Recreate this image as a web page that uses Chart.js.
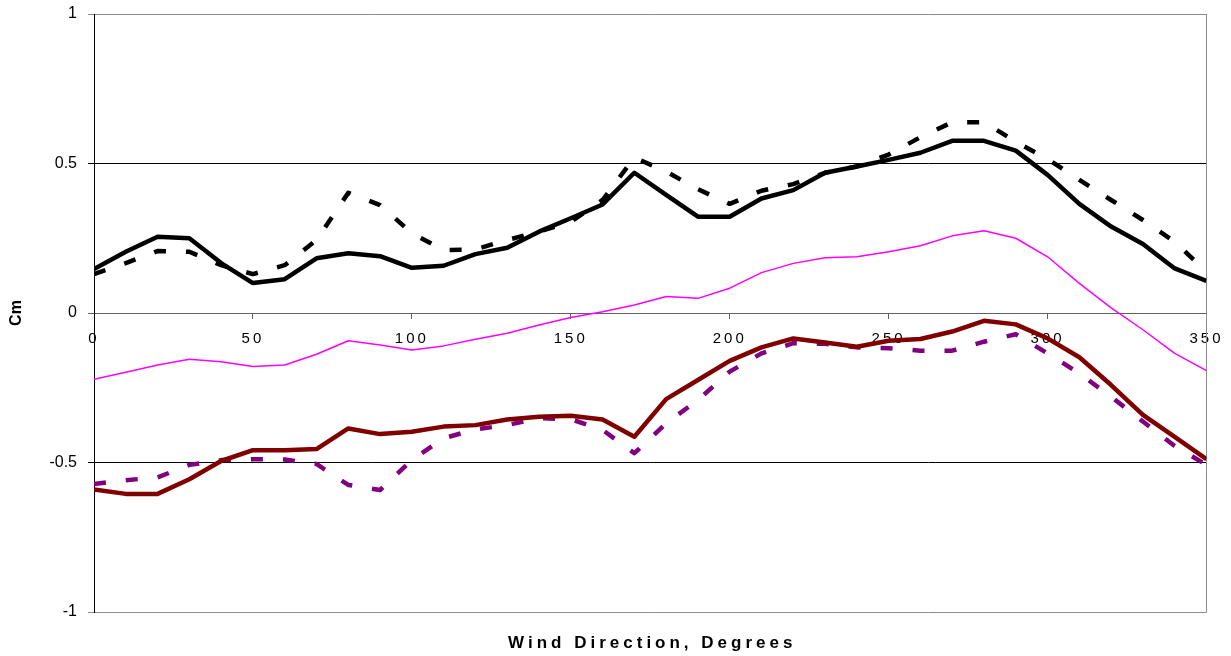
<!DOCTYPE html>
<html>
<head>
<meta charset="utf-8">
<title>Cm vs Wind Direction</title>
<script src="https://cdn.jsdelivr.net/npm/chart.js@4/dist/chart.umd.min.js"></script>
<style>
  html, body { margin: 0; padding: 0; background: #ffffff; }
  #wrap { width: 1231px; height: 656px; position: relative; }
</style>
</head>
<body>
<div id="wrap"><canvas id="chart" width="1231" height="656"></canvas></div>
<script>
// Wind direction in degrees
const directions = [0, 10, 20, 30, 40, 50, 60, 70, 80, 90, 100, 110, 120, 130, 140, 150, 160, 170,
                    180, 190, 200, 210, 220, 230, 240, 250, 260, 270, 280, 290, 300, 310, 320, 330, 340, 350];

// Moment coefficient series
const cmMaxMeasured = [0.147, 0.205, 0.255, 0.250, 0.167, 0.100, 0.113, 0.183, 0.200, 0.190, 0.151, 0.158,
                       0.197, 0.218, 0.272, 0.317, 0.363, 0.469, 0.395, 0.322, 0.322, 0.383, 0.411, 0.469,
                       0.490, 0.512, 0.536, 0.576, 0.576, 0.543, 0.462, 0.365, 0.289, 0.231, 0.149, 0.107];
const cmMaxPredicted = [0.130, 0.167, 0.207, 0.205, 0.160, 0.130, 0.160, 0.244, 0.402, 0.361, 0.267, 0.210,
                        0.213, 0.244, 0.272, 0.305, 0.378, 0.520, 0.473, 0.414, 0.365, 0.409, 0.431, 0.469,
                        0.490, 0.530, 0.588, 0.638, 0.638, 0.573, 0.515, 0.445, 0.378, 0.311, 0.238, 0.138];
const cmMean = [-0.222, -0.198, -0.174, -0.155, -0.163, -0.179, -0.174, -0.138, -0.093, -0.107, -0.124, -0.110,
                -0.088, -0.068, -0.040, -0.015, 0.004, 0.027, 0.055, 0.049, 0.083, 0.135, 0.166, 0.185,
                0.188, 0.205, 0.225, 0.258, 0.275, 0.250, 0.188, 0.099, 0.017, -0.056, -0.135, -0.193];
const cmMinMeasured = [-0.590, -0.605, -0.605, -0.556, -0.495, -0.459, -0.459, -0.455, -0.386, -0.405, -0.397, -0.380,
                       -0.375, -0.356, -0.347, -0.344, -0.356, -0.414, -0.288, -0.224, -0.160, -0.115, -0.085, -0.099,
                       -0.113, -0.093, -0.087, -0.062, -0.026, -0.038, -0.085, -0.148, -0.241, -0.341, -0.414, -0.489];
const cmMinPredicted = [-0.572, -0.559, -0.550, -0.508, -0.492, -0.489, -0.490, -0.505, -0.575, -0.592, -0.492, -0.419,
                        -0.389, -0.375, -0.352, -0.355, -0.391, -0.469, -0.369, -0.291, -0.196, -0.135, -0.101, -0.103,
                        -0.115, -0.118, -0.126, -0.126, -0.096, -0.071, -0.135, -0.202, -0.280, -0.363, -0.445, -0.508];

// Axis tick labels
const cmTickLabels = { '1': '1', '0.5': '0.5', '0': '0', '-0.5': '-0.5', '-1': '-1' };

const xTitle = 'Wind Direction, Degrees';
const yTitle = 'Cm';

const toPoints = vals => directions.map((d, i) => ({ x: d, y: vals[i] }));

const FONT = "'Liberation Sans', Arial, sans-serif";

// Spaced-out x tick labels, plot frame and the bottom axis title
const framePlugin = {
  id: 'frame',
  afterLayout(chart) {
    const sx = chart.scales.x;
    if (!sx._spaced) {
      const orig = sx.drawLabels.bind(sx);
      sx.drawLabels = function (area) {
        const ctx = this.ctx;
        ctx.save();
        ctx.letterSpacing = '3px';
        orig(area);
        ctx.restore();
      };
      sx._spaced = true;
    }
  },
  beforeDatasetsDraw(chart) {
    const { ctx, chartArea: a } = chart;
    ctx.save();
    ctx.strokeStyle = '#8c8c8c';
    ctx.lineWidth = 1;
    ctx.beginPath();
    ctx.moveTo(Math.round(a.right) + 0.5, a.top);
    ctx.lineTo(Math.round(a.right) + 0.5, a.bottom + 0.5);
    ctx.stroke();
    ctx.restore();
  },
  afterDraw(chart) {
    const { ctx, chartArea: a } = chart;
    ctx.save();
    ctx.font = 'bold 17px ' + FONT;
    ctx.letterSpacing = '4px';
    ctx.fillStyle = '#000';
    ctx.textAlign = 'center';
    ctx.textBaseline = 'middle';
    ctx.fillText(xTitle, (a.left + a.right) / 2 + 2, 643);
    ctx.restore();
  }
};

const gridColor = ctx => {
  const v = ctx.tick ? ctx.tick.value : null;
  if (v === -1 || v === 1) return '#8c8c8c';
  if (v === 0) return '#606060';
  return '#000000';
};

new Chart(document.getElementById('chart'), {
  type: 'line',
  data: {
    datasets: [
      { label: 'Cm max measured', data: toPoints(cmMaxMeasured), borderColor: '#000000', borderWidth: 4.5 },
      { label: 'Cm min measured', data: toPoints(cmMinMeasured), borderColor: '#800000', borderWidth: 4.5 },
      { label: 'Cm mean', data: toPoints(cmMean), borderColor: '#ff00ff', borderWidth: 1.5 },
      { label: 'Cm max predicted', data: toPoints(cmMaxPredicted), borderColor: '#000000', borderWidth: 4.5,
        borderDash: [12, 20], borderCapStyle: 'butt' },
      { label: 'Cm min predicted', data: toPoints(cmMinPredicted), borderColor: '#800080', borderWidth: 4.5,
        borderDash: [12, 20], borderCapStyle: 'butt' }
    ]
  },
  options: {
    responsive: false,
    devicePixelRatio: 1,
    animation: false,
    events: [],
    layout: { padding: { left: 7, top: 14, right: 22, bottom: 44 } },
    elements: {
      point: { radius: 0 },
      line: { tension: 0, fill: false, borderJoinStyle: 'round' }
    },
    plugins: { legend: { display: false }, tooltip: { enabled: false }, title: { display: false } },
    scales: {
      x: {
        type: 'linear',
        position: { y: 0 },
        min: 0, max: 350,
        ticks: { stepSize: 50, color: '#000', font: { family: FONT, size: 15 }, padding: 12, maxRotation: 0 },
        grid: { drawOnChartArea: false, drawTicks: true, tickLength: 5, color: '#606060' },
        border: { display: true, color: '#606060', width: 1 },
        afterFit(scale) { scale.paddingTop = 0; scale.paddingBottom = 0; }
      },
      y: {
        type: 'linear',
        min: -1, max: 1,
        ticks: {
          stepSize: 0.5, color: '#000', font: { family: FONT, size: 16 }, padding: 11,
          callback: v => cmTickLabels[String(v)] ?? String(v)
        },
        grid: { color: gridColor, lineWidth: 1, tickLength: 6, drawTicks: true },
        border: { display: true, color: '#000', width: 1 },
        title: { display: true, text: yTitle, color: '#000', font: { family: FONT, size: 16, weight: 'bold' },
                 padding: { top: 0, bottom: 0 } },
        afterFit(scale) { scale.width = 87; scale.paddingTop = 0; scale.paddingBottom = 0; }
      }
    }
  },
  plugins: [framePlugin]
});
</script>
</body>
</html>
